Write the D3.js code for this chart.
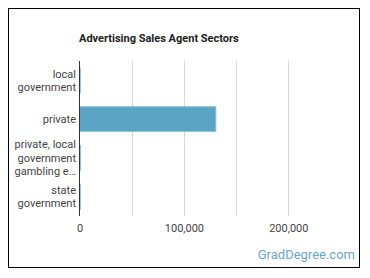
<!DOCTYPE html>
<html><head><meta charset="utf-8">
<script src="https://cdn.jsdelivr.net/npm/d3@7"></script>
<style>body{margin:0;background:#fff;font-family:Roboto,"Noto Sans",sans-serif;}</style>
</head><body>
<svg id="c" width="370" height="278"></svg>
<script>
const categories = [["local","government"],["private"],["private, local","government","gambling e\u2026"],["state","government"]];
const values = [800, 130600, 1000, 800];
const tickValues = [0, 100000, 200000];
const gridValues = [50000, 100000, 150000, 200000];
const title = "Advertising Sales Agent Sectors";

const svg = d3.select("#c");
svg.append("rect").attr("x",8.5).attr("y",8.5).attr("width",351).attr("height",259)
  .attr("fill","#fff").attr("stroke","#000").attr("stroke-width",1);

const m = {left:79.5, top:61, bottom:216};
const x = d3.scaleLinear().domain([0,200000]).range([79.5, 288.3]);
const y = d3.scaleBand().domain(d3.range(categories.length)).range([m.top, m.bottom]).paddingInner(0.36).paddingOuter(0.18);

svg.append("text").attr("x",79).attr("y",42).attr("font-size",11).attr("font-weight","bold")
  .attr("fill","#222").text(title);

svg.append("g").selectAll("line").data(gridValues).join("line")
  .attr("x1",d=>Math.round(x(d))+0.5).attr("x2",d=>Math.round(x(d))+0.5).attr("y1",m.top).attr("y2",m.bottom)
  .attr("stroke","#d6d6d6").attr("stroke-width",1);

svg.append("g").selectAll("rect").data(values).join("rect")
  .attr("x",x(0)).attr("y",(d,i)=>y(i)).attr("width",d=>x(d)-x(0)).attr("height",y.bandwidth())
  .attr("fill","#5ba4c3").attr("stroke","#8ec2d8").attr("stroke-width",1);

svg.append("line").attr("x1",x(0)).attr("x2",x(0)).attr("y1",m.top).attr("y2",m.bottom)
  .attr("stroke","#333").attr("stroke-width",1);

const lab = svg.append("g");
categories.forEach((lines,i)=>{
  const cy = y(i) + y.bandwidth()/2;
  const lh = 13.5;
  const start = cy - (lines.length-1)*lh/2;
  const t = lab.append("text").attr("text-anchor","end").attr("font-size",11).attr("fill","#444");
  lines.forEach((s,j)=>{
    t.append("tspan").attr("x",76).attr("y",start + j*lh + 4).text(s);
  });
});

const xAxis = d3.axisBottom(x).tickValues(tickValues).tickSize(0).tickFormat(d3.format(","));
const ga = svg.append("g").attr("transform",`translate(0,${m.bottom})`).call(xAxis);
ga.select(".domain").remove();
ga.selectAll("text").attr("font-size",11).attr("fill","#444").attr("dy","1.15em")
  .attr("font-family","Roboto,'Noto Sans',sans-serif");

svg.append("text").attr("x",355).attr("y",259).attr("text-anchor","end").attr("font-size",13)
  .attr("fill","#6ba6c6").text("GradDegree.com");
</script>
</body></html>
